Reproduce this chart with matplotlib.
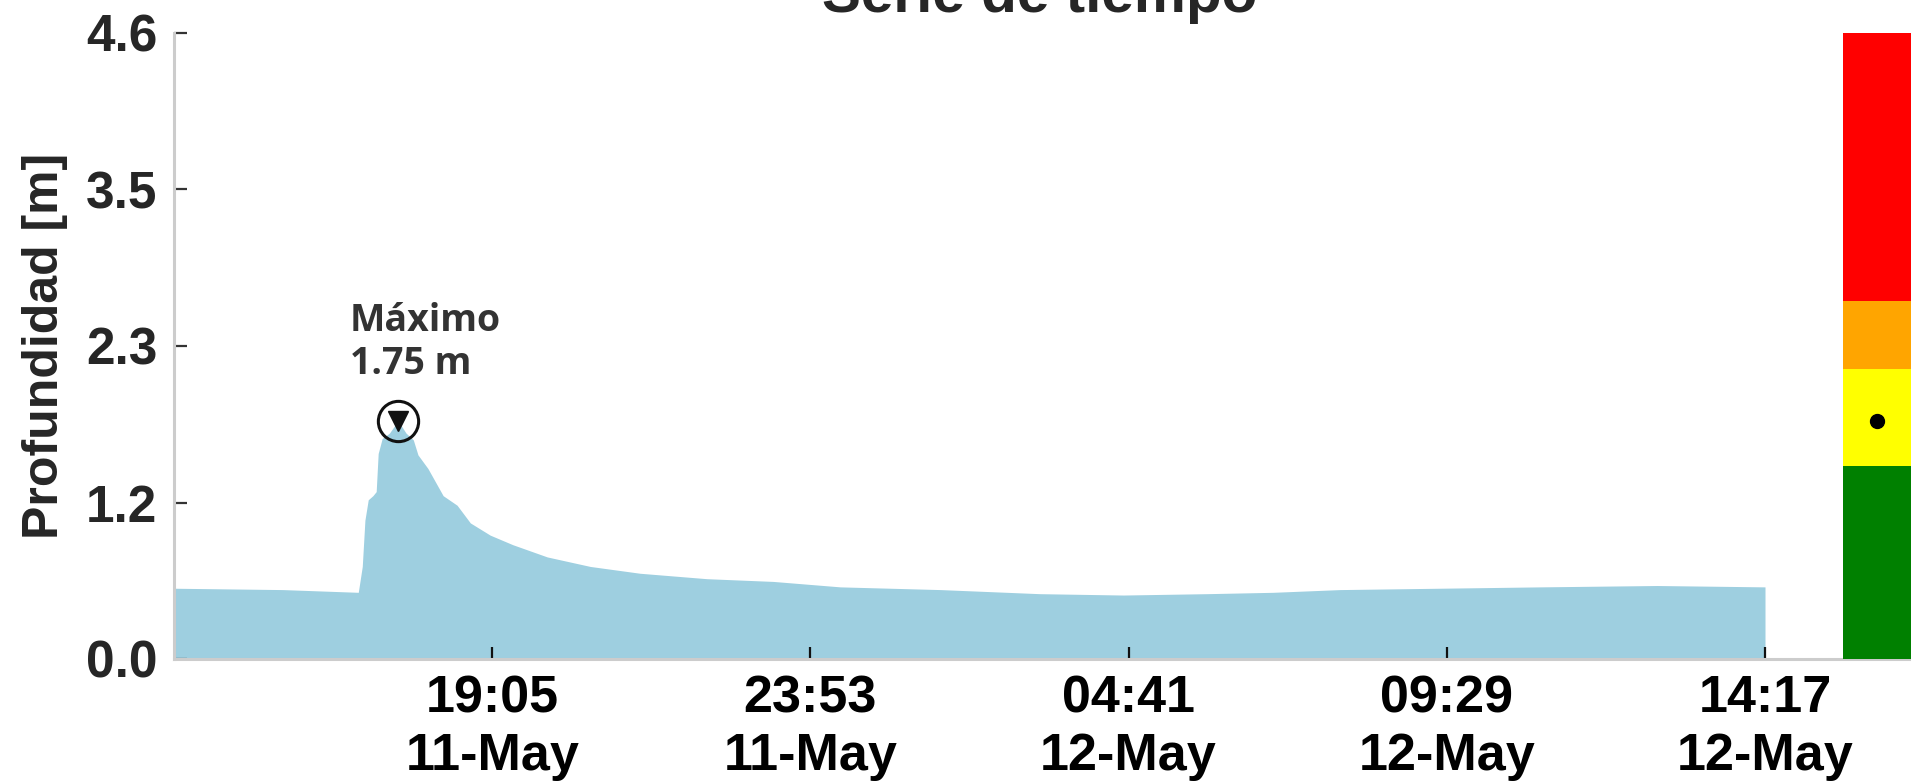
import matplotlib
matplotlib.use("Agg")
import matplotlib.pyplot as plt
import matplotlib.dates as mdates
import numpy as np
import datetime as dt

# ---------------- data ----------------
start_time = "2024-05-11 14:17"
hours = [0.0, 1.64, 2.78, 2.84, 2.88, 2.93, 3.00, 3.05, 3.08, 3.14, 3.25, 3.38,
         3.50, 3.61, 3.68, 3.83, 4.06, 4.27, 4.47, 4.77, 5.11, 5.63, 6.28, 7.03,
         8.04, 9.04, 10.05, 11.56, 13.06, 14.32, 15.58, 16.58, 17.59, 19.10,
         20.61, 22.37, 24.0]
depth = [0.52, 0.51, 0.49, 0.68, 1.02, 1.17, 1.20, 1.23, 1.51, 1.62, 1.66, 1.75,
         1.66, 1.61, 1.50, 1.40, 1.20, 1.13, 1.00, 0.91, 0.84, 0.75, 0.68, 0.63,
         0.59, 0.57, 0.53, 0.51, 0.48, 0.47, 0.48, 0.49, 0.51, 0.52, 0.53, 0.54,
         0.53]
y_max = 4.6
y_tick_labels = ["0.0", "1.2", "2.3", "3.5", "4.6"]
level_bottoms = [0.0, 1.42, 2.13, 2.63]
level_tops = [1.42, 2.13, 2.63, 4.6]
level_colors = ["#008000", "#ffff00", "#ffa500", "#ff0000"]
title = "Serie de tiempo"
ylabel = "Profundidad [m]"
max_label = "Máximo\n{:.2f} m"

# ---------------- figure ----------------
W, H = 1911, 781
fig = plt.figure(figsize=(W / 100, H / 100), dpi=100)

left_px, right_px, top_px, bot_px = 174, 1911, 33, 659
ax = fig.add_axes([left_px / W, 1 - bot_px / H, (right_px - left_px) / W,
                   (bot_px - top_px) / H])

t0 = dt.datetime.strptime(start_time, "%Y-%m-%d %H:%M")
times = [t0 + dt.timedelta(hours=h) for h in hours]
tnum = mdates.date2num(times)

fill_color = "#9ecfe0"
ax.fill_between(tnum, 0, depth, color=fill_color, linewidth=0, zorder=1)

# peak marker
imax = int(np.argmax(depth))
ax.plot(tnum[imax], depth[imax], marker="o", ms=29, mfc="none", mec="#111111",
        mew=2.2, zorder=5, clip_on=False)
ax.plot(tnum[imax], depth[imax], marker="v", ms=14, color="#111111",
        zorder=6, clip_on=False)
ax.annotate(max_label.format(depth[imax]), xy=(tnum[imax], depth[imax]),
            xytext=(-48, 47), textcoords="offset pixels", ha="left",
            va="baseline", fontsize=27, fontweight="bold",
            family=["Open Sans", "DejaVu Sans"], color="#333333",
            linespacing=1.15)

# x axis
span = tnum[-1] - tnum[0]
data_px = 1765 - left_px
x_right = tnum[0] + span * (right_px - left_px) / data_px
ax.set_xlim(tnum[0], x_right)
xt = np.linspace(tnum[0], tnum[-1], 6)[1:]
ax.set_xticks(xt)
ax.xaxis.set_major_formatter(mdates.DateFormatter("%H:%M\n%d-%b"))

# y axis
ax.set_ylim(0, y_max)
ax.set_yticks(np.linspace(0, y_max, 5))
ax.set_yticklabels(y_tick_labels)

tick_font = ["Liberation Sans", "DejaVu Sans"]
for lab in ax.get_xticklabels():
    lab.set_fontfamily(tick_font)
    lab.set_fontweight("bold")
    lab.set_fontsize(37.5)
    lab.set_color("black")
    lab.set_linespacing(1.22)
for lab in ax.get_yticklabels():
    lab.set_fontfamily(tick_font)
    lab.set_fontweight("bold")
    lab.set_fontsize(37)
    lab.set_color("#262626")

ax.tick_params(axis="x", direction="in", length=9, width=1.6, color="#111111",
               pad=11)
ax.tick_params(axis="y", direction="in", length=9, width=1.6, color="#333333",
               pad=12)

for s in ["top", "right"]:
    ax.spines[s].set_visible(False)
for s in ["left", "bottom"]:
    ax.spines[s].set_color("#cccccc")
    ax.spines[s].set_linewidth(2.2)
ax.set_facecolor("white")

ax.set_ylabel(ylabel, fontsize=36, fontweight="bold", family=tick_font,
              color="#262626")
ax.yaxis.set_label_coords(-(left_px - 68) / (right_px - left_px), 0.5)

fig.text(1040 / W, 1 - 12 / H, title, ha="center", va="baseline",
         fontsize=42, fontweight="bold", family=tick_font, color="#262626")

# colour bar of levels
cb_left = 1843
cax = fig.add_axes([cb_left / W, 1 - bot_px / H, (W - cb_left) / W,
                    (bot_px - top_px) / H])
heights = [t - b for t, b in zip(level_tops, level_bottoms)]
cax.bar([0] * len(heights), heights, bottom=level_bottoms, width=1.0,
        color=level_colors, linewidth=0)
cax.plot([0], [depth[imax]], "o", color="black", ms=10)
cax.set_xlim(-0.5, 0.5)
cax.set_ylim(0, y_max)
cax.axis("off")

fig.savefig("out.png", dpi=100)
